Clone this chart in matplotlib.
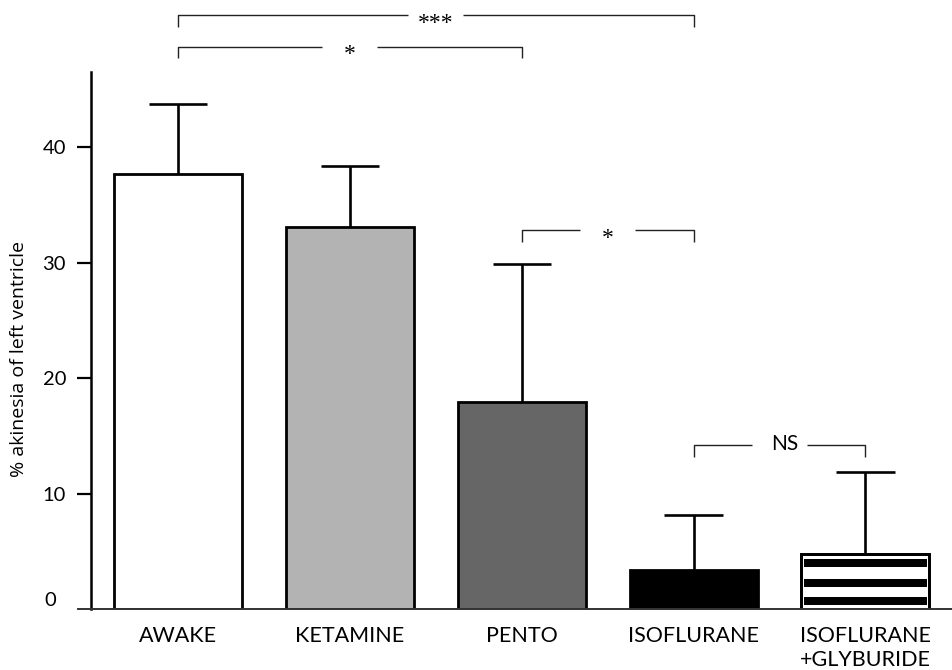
import matplotlib
matplotlib.use("Agg")
import matplotlib.pyplot as plt
from matplotlib.lines import Line2D
import numpy as np

# Groups and measured akinesia (mean and upper SD)
groups = ["AWAKE", "KETAMINE", "PENTO", "ISOFLURANE", "ISOFLURANE\n+GLYBURIDE"]
means = [37.7, 33.1, 17.9, 3.4, 4.8]
sd = [6.0, 5.3, 12.0, 4.7, 7.1]
ytick_values = [10, 20, 30, 40]

# Significance comparisons: (left group, right group, label)
comparisons = [(0, 3, "***"), (0, 2, "*"), (2, 3, "*"), (3, 4, "NS")]
bracket_levels = [51.4, 48.7, 32.8, 14.2]

fills = ["white", "#b3b3b3", "#666666", "black", "white"]

plt.rcParams["font.family"] = ["Lato", "DejaVu Sans"]

fig = plt.figure(figsize=(9.53, 6.70), dpi=100)
ax = fig.add_axes([91 / 953, 61 / 670, 862 / 953, 537 / 670])

x = np.arange(len(groups))
width = 0.745

bars = ax.bar(x, means, width=width, color=fills, edgecolor="black",
              linewidth=2.0, zorder=2)

# Horizontal black bands on the glyburide bar
band_fracs = [(0.07, 0.21), (0.40, 0.54), (0.75, 0.90)]
gx, gh = x[4], means[4]
for f0, f1 in band_fracs:
    ax.bar(gx, gh * (f1 - f0), bottom=gh * f0, width=width - 0.03,
           color="black", linewidth=0, zorder=2.5)
ax.bar(gx, gh, width=width, fill=False, edgecolor="black", linewidth=2.0,
       zorder=2.6)

# Upper error bars
tops = np.array(means) + np.array(sd)
cap = 0.17
ax.vlines(x, means, tops, colors="black", linewidth=1.9, zorder=3)
ax.hlines(tops, x - cap, x + cap, colors="black", linewidth=1.9, zorder=3)

ax.set_xlim(-0.507, 4.51)
ax.set_ylim(0, 46.5)

for side in ("top", "right", "bottom"):
    ax.spines[side].set_visible(False)
ax.spines["left"].set_linewidth(1.8)

ax.set_yticks(ytick_values)
ax.set_yticklabels([str(v) for v in ytick_values], fontsize=14.5)
ax.tick_params(axis="y", length=10, width=1.6, pad=8, direction="out")
ax.text(-0.04, 0.0, "0", transform=ax.transAxes, ha="right", va="bottom",
        fontsize=14.5, family=["Lato", "DejaVu Sans"])

ax.set_xticks(x)
ax.set_xticklabels(groups, fontsize=15.5, linespacing=1.3)
ax.tick_params(axis="x", length=0, pad=12)

# Baseline running across the whole plot
ax.add_line(Line2D([-13 / 862, 1.0], [0, 0], transform=ax.transAxes,
                   color="#333333", linewidth=1.4, clip_on=False, zorder=4))

ax.set_ylabel("% akinesia of left ventricle", fontsize=14,
              family=["Open Sans", "DejaVu Sans"])
ax.yaxis.set_label_coords(-63 / 862, 0.465)

# Significance brackets
gap = 0.16
drop = 1.0
for (i, j, lab), lvl in zip(comparisons, bracket_levels):
    xi, xj = x[i], x[j]
    mid = (xi + xj) / 2
    kw = dict(color="#222222", linewidth=1.0, clip_on=False,
              solid_capstyle="butt")
    ax.plot([xi, xi, mid - gap], [lvl - drop, lvl, lvl], **kw)
    ax.plot([mid + gap, xj, xj], [lvl, lvl, lvl - drop], **kw)
    if lab == "NS":
        ax.text(mid + 0.03, lvl + 0.1, lab, ha="center", va="center",
                fontsize=15)
    else:
        ax.text(mid, lvl - 0.7, lab, ha="center", va="center", fontsize=17,
                family=["Liberation Serif", "DejaVu Sans"])

fig.savefig("out.png", dpi=100)
